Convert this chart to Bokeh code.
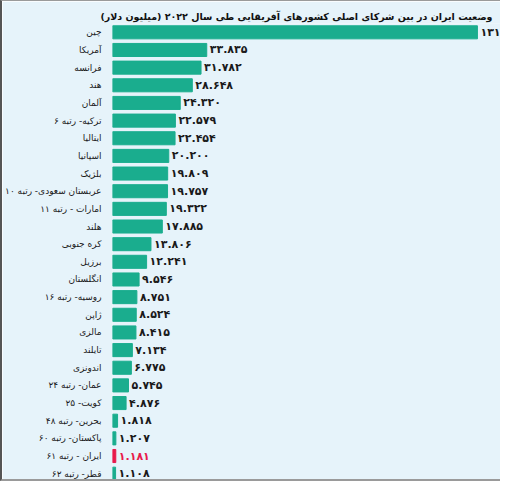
from bokeh.plotting import figure
from bokeh.models import ColumnDataSource, Range1d
from bokeh.core.properties import value
from bokeh.embed import file_html
from bokeh.resources import INLINE

countries = ["چین", "آمریکا", "فرانسه", "هند", "آلمان", "ترکیه- رتبه ۶", "ایتالیا",
             "اسپانیا", "بلژیک", "عربستان سعودی- رتبه ۱۰", "امارات - رتبه ۱۱", "هلند",
             "کره جنوبی", "برزیل", "انگلستان", "روسیه- رتبه ۱۶", "ژاپن", "مالزی",
             "تایلند", "اندونزی", "عمان- رتبه ۲۴", "کویت- ۲۵", "بحرین- رتبه ۴۸",
             "پاکستان- رتبه ۶۰", "ایران - رتبه ۶۱", "قطر- رتبه ۶۲"]
values = [131.0, 33.835, 31.782, 28.648, 24.320, 22.579, 22.454, 20.200, 19.809,
          19.757, 19.322, 17.885, 13.806, 12.241, 9.546, 8.751, 8.524, 8.415,
          7.134, 6.775, 5.745, 4.876, 1.818, 1.207, 1.181, 1.108]
value_labels = ["۱۳۱", "۳۳.۸۳۵", "۳۱.۷۸۲", "۲۸.۶۴۸", "۲۴.۳۲۰", "۲۲.۵۷۹", "۲۲.۴۵۴",
                "۲۰.۲۰۰", "۱۹.۸۰۹", "۱۹.۷۵۷", "۱۹.۳۲۲", "۱۷.۸۸۵", "۱۳.۸۰۶", "۱۲.۲۴۱",
                "۹.۵۴۶", "۸.۷۵۱", "۸.۵۲۴", "۸.۴۱۵", "۷.۱۳۴", "۶.۷۷۵", "۵.۷۴۵",
                "۴.۸۷۶", "۱.۸۱۸", "۱.۲۰۷", "۱.۱۸۱", "۱.۱۰۸"]
highlight = "ایران - رتبه ۶۱"
title_text = "وضعیت ایران در بین شرکای اصلی کشورهای آفریقایی طی سال ۲۰۲۲ (میلیون دلار)"

GREEN = "#1aad8e"
RED = "#e8194b"
BG = "#e6f3fa"

colors = [RED if c == highlight else GREEN for c in countries]
label_colors = [RED if c == highlight else "#1a1a1a" for c in countries]

src = ColumnDataSource(dict(country=countries, val=values, lab=value_labels,
                            color=colors, lcolor=label_colors))

p = figure(width=500, height=481, y_range=list(reversed(countries)),
           x_range=Range1d(0, 140), output_backend="svg", toolbar_location=None,
           min_border_left=107, min_border_right=0, min_border_top=22,
           min_border_bottom=0, background_fill_color=BG, border_fill_color=BG,
           outline_line_color=None)
p.styles = {"border-left": "2px solid #555555", "border-bottom": "2px solid #9a9a9a",
            "border-top": "1px solid #9a9a9a", "box-sizing": "border-box"}

p.hbar(y="country", right="val", height=0.74, color="color", source=src)
p.text(x="val", y="country", text="lab", text_color="lcolor", source=src,
       x_offset=3, text_baseline="middle", text_align="left",
       text_font=value("DejaVu Sans"), text_font_size="11px", text_font_style="bold")

p.title.text = title_text
p.title.align = "right"
p.title.text_font = "DejaVu Sans"
p.title.text_font_size = "9.5px"
p.title.text_font_style = "bold"
p.title.text_color = "#111111"
p.title.offset = 10
p.title.standoff = 4

p.xaxis.visible = False
p.yaxis.axis_line_color = None
p.yaxis.major_tick_line_color = None
p.yaxis.minor_tick_line_color = None
p.yaxis.major_label_text_font = "DejaVu Sans"
p.yaxis.major_label_text_font_size = "9px"
p.yaxis.major_label_text_color = "#1a1a1a"
p.yaxis.major_label_standoff = 5
p.xgrid.grid_line_color = None
p.ygrid.grid_line_color = None
p.y_range.range_padding = 0

open("out.html", "w").write(file_html(p, INLINE))
